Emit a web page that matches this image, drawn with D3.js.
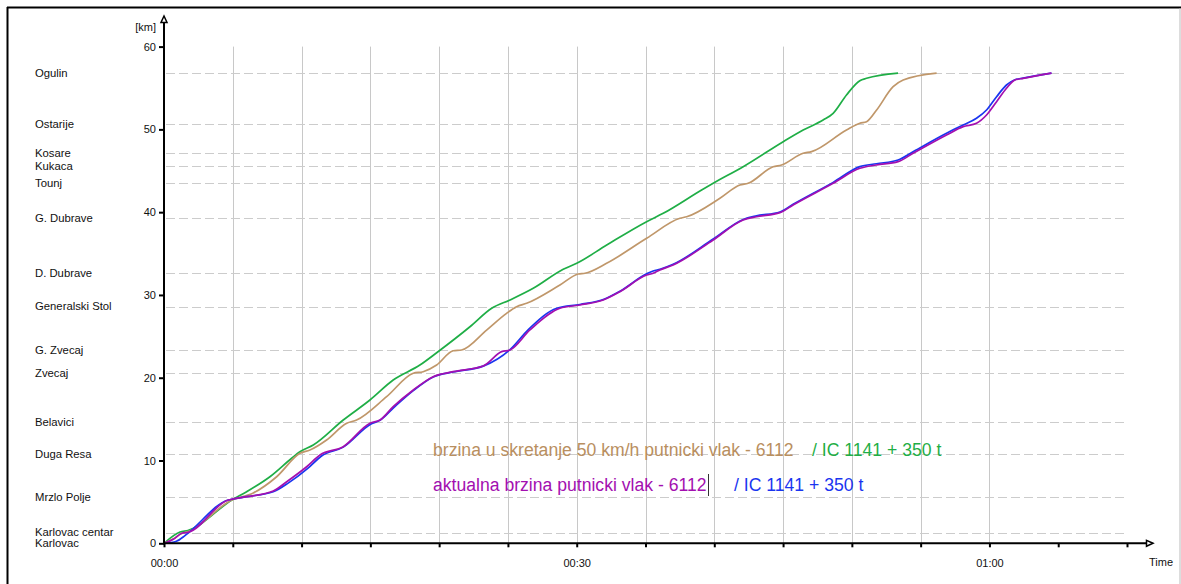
<!DOCTYPE html>
<html>
<head>
<meta charset="utf-8">
<script src="https://cdn.jsdelivr.net/npm/d3@7"></script>
<style>
  html, body { margin: 0; padding: 0; background: #fff; }
  svg { display: block; font-family: "Liberation Sans", Arial, sans-serif; }
</style>
</head>
<body>
<svg id="chart" width="1181" height="584"></svg>
<script>
// ---- data (time in minutes, distance in km) ----
const stationNames = ["Ogulin","Ostarije","Kosare","Kukaca","Tounj","G. Dubrave","D. Dubrave","Generalski Stol","G. Zvecaj","Zvecaj","Belavici","Duga Resa","Mrzlo Polje","Karlovac centar","Karlovac"];
const stationKm = [56.8, 50.6, 47.2, 45.6, 43.5, 39.3, 32.6, 28.6, 23.3, 20.6, 14.6, 10.8, 5.6, 1.3, 0];

const yTicks = [0, 10, 20, 30, 40, 50, 60];
const xTickMinutes = [0,5,10,15,20,25,30,35,40,45,50,55,60,65,70];
const xTickLabels = {0: "00:00", 30: "00:30", 60: "01:00"};
const xGridMinutes = [5,10,15,20,25,30,35,40,45,50,55,60];

const legendLabels = [
  "brzina u skretanje 50 km/h putnicki vlak - 6112",
  "/ IC 1141 + 350 t",
  "aktualna brzina putnicki vlak - 6112",
  "/ IC 1141 + 350 t"
];

const greenSeries = [[0,0],[1.16,1.36],[1.74,1.55],[4.94,5.23],[6.01,6.23],[7.70,8.04],[9.28,10.27],[9.88,11.06],[10.85,11.87],[13.03,14.89],[14.97,17.31],[16.66,19.72],[18.60,21.53],[19.82,23.02],[22.24,26.16],[23.82,28.39],[25.15,29.39],[26.84,30.80],[29.02,33.10],[30.0,33.82],[32.18,36.03],[35.08,38.85],[36.29,39.86],[39.08,42.68],[39.92,43.49],[42.10,45.49],[45.01,48.51],[46.46,49.92],[47.91,51.13],[48.64,51.94],[49.61,54.16],[50.58,55.88],[51.07,56.17],[53.36,56.8]];

const brownSeries = [[0,0],[0.65,0.52],[1.29,1.18],[1.77,1.43],[4.92,5.23],[6.49,6.08],[8.19,8.04],[9.88,10.87],[10.61,11.27],[11.82,12.48],[13.28,14.50],[14.00,14.89],[16.18,17.71],[18.12,20.54],[18.84,20.73],[19.82,21.54],[21.02,23.26],[21.63,23.35],[23.45,25.76],[24.90,27.78],[25.63,28.58],[26.36,28.99],[28.78,31.20],[30.11,32.53],[30.60,32.62],[32.17,33.82],[35.08,36.84],[37.50,39.26],[37.99,39.45],[40.41,41.68],[41.86,43.28],[42.46,43.49],[44.28,45.49],[44.89,45.70],[46.46,47.11],[47.07,47.31],[49.61,49.93],[50.58,50.74],[51.07,50.93],[51.80,52.34],[53.00,55.16],[53.73,55.97],[56.16,56.8]];

const purpleSeries = [[0,0],[0.68,0.48],[1.29,1.21],[1.77,1.33],[4.67,5.23],[5.01,5.35],[6.01,5.63],[7.94,6.32],[8.92,7.44],[10.37,9.25],[11.34,10.67],[13.03,11.67],[14.97,14.50],[15.70,14.89],[16.66,16.50],[18.12,18.52],[19.57,20.13],[21.02,20.73],[23.20,21.42],[24.54,23.15],[25.15,23.35],[26.60,25.77],[28.78,28.39],[30.23,28.79],[31.93,29.39],[33.14,30.39],[35.08,32.41],[35.56,32.62],[36.05,33.02],[37.01,33.62],[39.92,36.64],[42.10,39.06],[43.07,39.45],[44.77,39.94],[45.73,40.87],[48.64,43.49],[50.58,45.30],[51.79,45.70],[53.36,46.10],[54.45,47.11],[56.88,49.32],[58.09,50.33],[59.06,50.74],[59.79,51.74],[60.52,53.35],[61.24,54.97],[61.85,55.97],[62.45,56.17],[64.51,56.8]];

const blueSeries = [[0,0],[0.9,0.25],[1.5,0.9],[1.8,1.3],[4.67,5.23],[5.01,5.35],[6.01,5.63],[7.94,6.22],[9.05,7.3],[10.45,9.05],[11.45,10.55],[13.03,11.62],[15.05,14.42],[15.70,14.86],[16.70,16.40],[18.12,18.45],[19.57,20.10],[21.02,20.70],[23.20,21.40],[25.15,23.40],[26.50,25.85],[28.55,28.39],[30.23,28.85],[31.93,29.45],[33.14,30.45],[35.08,32.55],[35.56,32.90],[36.05,33.10],[37.01,33.70],[39.92,36.75],[42.10,39.12],[43.07,39.55],[44.77,40.02],[45.73,40.95],[48.64,43.60],[50.58,45.50],[51.79,45.85],[53.36,46.30],[54.45,47.30],[56.88,49.53],[58.09,50.53],[59.06,51.34],[59.79,52.34],[60.52,53.95],[61.24,55.36],[61.85,56.0],[62.45,56.2],[64.51,56.8]];

// ---- layout ----
const svg = d3.select("#chart");
const x = d3.scaleLinear().domain([0, 70]).range([164, 1127]);
const y = d3.scaleLinear().domain([0, 60]).range([543.3, 46.6]);

// frame
svg.append("line").attr("x1", 7).attr("x2", 1181).attr("y1", 7.5).attr("y2", 7.5).attr("stroke", "#000").attr("stroke-width", 2);
svg.append("line").attr("x1", 1180).attr("x2", 1180).attr("y1", 8).attr("y2", 584).attr("stroke", "#bbb").attr("stroke-width", 1);
svg.append("line").attr("x1", 7.5).attr("x2", 7.5).attr("y1", 7).attr("y2", 584).attr("stroke", "#000").attr("stroke-width", 2);

// vertical grid
svg.append("g").selectAll("line").data(xGridMinutes).join("line")
  .attr("x1", d => Math.round(x(d)) + 0.5).attr("x2", d => Math.round(x(d)) + 0.5)
  .attr("y1", y(60)).attr("y2", y(0))
  .attr("stroke", "#c8c8c8").attr("stroke-width", 1);

// station dashed lines
svg.append("g").selectAll("line").data(stationKm.filter(k => k > 0)).join("line")
  .attr("x1", x(0) + 2).attr("x2", x(70))
  .attr("y1", d => Math.round(y(d)) + 0.5).attr("y2", d => Math.round(y(d)) + 0.5)
  .attr("stroke", "#cccccc").attr("stroke-width", 1).attr("stroke-dasharray", "9,4");

// station labels
svg.append("g").selectAll("text").data(stationNames).join("text")
  .attr("x", 35).attr("y", (d, i) => y(stationKm[i]))
  .attr("dy", "0.35em")
  .attr("font-size", 11.3).attr("fill", "#111")
  .text(d => d);

// series
const line = d3.line().x(d => x(d[0])).y(d => y(d[1])).curve(d3.curveMonotoneX);
const series = [
  {data: greenSeries, color: "#1fae46"},
  {data: brownSeries, color: "#c0976a"},
  {data: blueSeries, color: "#1a35f0"},
  {data: purpleSeries, color: "#a30fb0"}
];
svg.append("g").selectAll("path").data(series).join("path")
  .attr("d", d => line(d.data))
  .attr("fill", "none").attr("stroke", d => d.color).attr("stroke-width", 1.7)
  .attr("stroke-linejoin", "round");

// axes
const yAxis = d3.axisLeft(y).tickValues(yTicks).tickSize(5).tickPadding(3).tickFormat(d3.format("d"));
const gy = svg.append("g").attr("transform", `translate(${x(0)},0)`).call(yAxis);
gy.select(".domain").remove();
gy.selectAll(".tick line").attr("stroke", "#000").attr("stroke-width", 2);
gy.selectAll(".tick text").attr("font-size", 11).attr("fill", "#111").attr("font-family", "Liberation Sans, Arial, sans-serif");

const xAxis = d3.axisBottom(x).tickValues(xTickMinutes).tickSize(4).tickPadding(12)
  .tickFormat(d => xTickLabels[d] || "");
const gx = svg.append("g").attr("transform", `translate(0,${y(0)})`).call(xAxis);
gx.select(".domain").remove();
gx.selectAll(".tick line").attr("stroke", "#000").attr("stroke-width", 2);
gx.selectAll(".tick text").attr("font-size", 11).attr("fill", "#111").attr("font-family", "Liberation Sans, Arial, sans-serif");

// axis lines with arrows
svg.append("line").attr("x1", x(0)).attr("x2", x(0)).attr("y1", y(0) + 1).attr("y2", 20)
  .attr("stroke", "#000").attr("stroke-width", 2);
svg.append("line").attr("x1", x(0) - 1).attr("x2", 1148).attr("y1", y(0)).attr("y2", y(0))
  .attr("stroke", "#000").attr("stroke-width", 2);
svg.append("path").attr("d", `M${x(0)},16 L${x(0) - 3},22.5 L${x(0) + 3},22.5 Z`)
  .attr("fill", "#fff").attr("stroke", "#000").attr("stroke-width", 1.5);
svg.append("path").attr("d", `M1153,${y(0)} L1146.5,${y(0) - 3} L1146.5,${y(0) + 3} Z`)
  .attr("fill", "#fff").attr("stroke", "#000").attr("stroke-width", 1.5);

svg.append("text").attr("x", 156).attr("y", 27).attr("dy", "0.35em").attr("text-anchor", "end")
  .attr("font-size", 11).attr("fill", "#111").text("[km]");
svg.append("text").attr("x", 1149).attr("y", y(0) + 19).attr("dy", "0.35em")
  .attr("font-size", 11).attr("fill", "#111").text("Time");

// legend texts
const legend = [
  {x: 433, y: 450, color: "#b98f5f", text: legendLabels[0]},
  {x: 812, y: 450, color: "#1fae46", text: legendLabels[1]},
  {x: 433, y: 485, color: "#a30fb0", text: legendLabels[2]},
  {x: 734, y: 485, color: "#1a35f0", text: legendLabels[3]}
];
svg.append("g").selectAll("text").data(legend).join("text")
  .attr("x", d => d.x).attr("y", d => d.y).attr("dy", "0.35em")
  .attr("font-size", 17.6).attr("fill", d => d.color)
  .text(d => d.text);
// text cursor
svg.append("line").attr("x1", 708.5).attr("x2", 708.5).attr("y1", 474).attr("y2", 496)
  .attr("stroke", "#333").attr("stroke-width", 1);
</script>
</body>
</html>
